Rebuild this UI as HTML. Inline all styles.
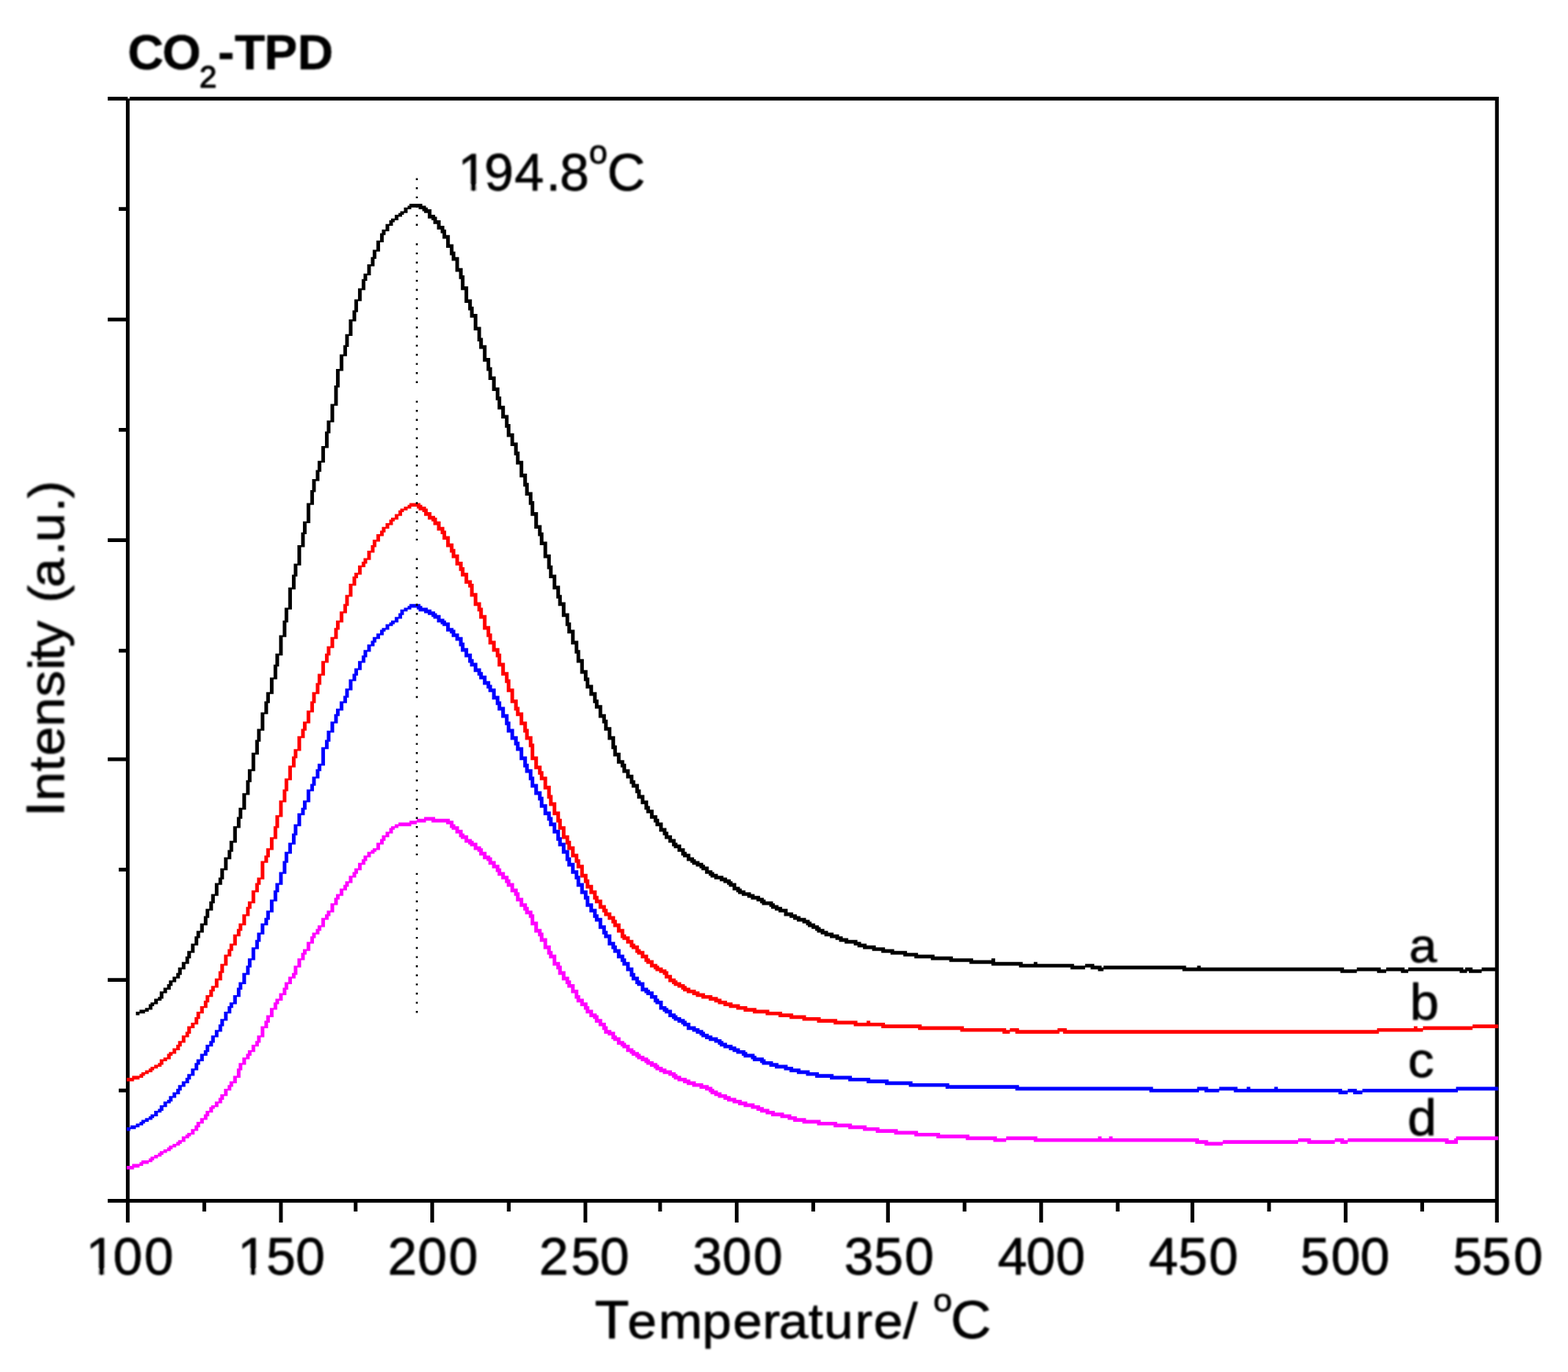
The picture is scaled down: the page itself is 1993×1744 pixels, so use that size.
<!DOCTYPE html>
<html lang="en">
<head>
<meta charset="utf-8">
<title>CO2-TPD</title>
<style>
html,body{margin:0;padding:0;background:#fff;}
body{width:1993px;height:1744px;overflow:hidden;}
svg{display:block;}
text{font-kerning:none;white-space:pre;}
</style>
</head>
<body>
<svg width="1993" height="1744" viewBox="0 0 1993 1744" font-family="'Liberation Sans', Arial, Helvetica, sans-serif">
<defs><filter id="soft" x="-2%" y="-2%" width="104%" height="104%"><feGaussianBlur stdDeviation="0.7"/></filter><filter id="softt" x="-5%" y="-20%" width="110%" height="140%"><feGaussianBlur stdDeviation="0.8"/></filter></defs>
<rect width="1993" height="1744" fill="#fff"/>
<g filter="url(#soft)"><path fill="#000" d="M159.99 125.36H162.36V1553.9H159.99ZM162.36 125.36H164.74V1553.9H162.36ZM159.99 122.98H162.36V125.36H159.99ZM1900.28 122.98H1905.03V1553.9H1900.28ZM136.9 122.98H159.99V127.74H136.9ZM164.74 122.98H1905.03V127.74H164.74ZM136.9 1523.98H1905.03V1528.73H136.9ZM150.9 263.32H159.99V268.07H150.9ZM136.9 403.65H159.99V408.41H136.9ZM150.9 543.99H159.99V548.75H150.9ZM136.9 684.33H159.99V689.09H136.9ZM150.9 824.67H159.99V829.42H150.9ZM136.9 962.63H159.99V967.38H136.9ZM150.9 1102.96H159.99V1107.72H150.9ZM136.9 1243.3H159.99V1248.06H136.9ZM150.9 1383.64H159.99V1388.4H150.9ZM257.33 1528.73H262.08V1540.1H257.33ZM354.67 1528.73H359.42V1553.9H354.67ZM449.64 1528.73H454.39V1540.1H449.64ZM546.98 1528.73H551.73V1553.9H546.98ZM644.33 1528.73H649.08V1540.1H644.33ZM741.67 1528.73H746.42V1553.9H741.67ZM836.64 1528.73H841.39V1540.1H836.64ZM933.98 1528.73H938.73V1553.9H933.98ZM1031.32 1528.73H1036.07V1540.1H1031.32ZM1126.29 1528.73H1131.04V1553.9H1126.29ZM1223.63 1528.73H1228.38V1540.1H1223.63ZM1320.97 1528.73H1325.72V1553.9H1320.97ZM1418.32 1528.73H1423.06V1540.1H1418.32ZM1513.28 1528.73H1518.03V1553.9H1513.28ZM1610.63 1528.73H1615.37V1540.1H1610.63ZM1707.97 1528.73H1712.72V1553.9H1707.97ZM1805.31 1528.73H1810.06V1540.1H1805.31Z"/>
<path fill="#000" d="M172.7 1285.88H177.36V1290.55H172.7ZM177.36 1283.55H184.36V1288.22H177.36ZM184.36 1281.21H189.03V1285.88H184.36ZM189.03 1276.55H191.37V1283.55H189.03ZM191.37 1274.21H193.7V1283.55H191.37ZM193.7 1274.21H196.03V1278.88H193.7ZM196.03 1269.55H200.7V1276.55H196.03ZM200.7 1267.21H203.03V1271.88H200.7ZM203.03 1260.21H205.37V1271.88H203.03ZM205.37 1260.21H207.7V1269.55H205.37ZM207.7 1255.54H212.37V1262.54H207.7ZM212.37 1250.88H214.7V1257.88H212.37ZM214.7 1246.21H217.04V1257.88H214.7ZM217.04 1246.21H219.37V1253.21H217.04ZM219.37 1241.54H224.04V1248.54H219.37ZM224.04 1236.87H226.37V1243.87H224.04ZM226.37 1229.87H228.7V1243.87H226.37ZM228.7 1229.87H231.04V1239.21H228.7ZM231.04 1222.87H235.71V1232.21H231.04ZM235.71 1215.87H238.04V1225.2H235.71ZM238.04 1208.87H240.37V1225.2H238.04ZM240.37 1208.87H242.71V1218.2H240.37ZM242.71 1199.53H247.37V1211.2H242.71ZM247.37 1190.2H249.71V1201.87H247.37ZM249.71 1183.2H252.04V1201.87H249.71ZM252.04 1183.2H254.38V1192.53H252.04ZM254.38 1173.86H259.04V1185.53H254.38ZM259.04 1164.53H261.38V1176.2H259.04ZM261.38 1155.19H263.71V1176.2H261.38ZM263.71 1155.19H266.04V1166.86H263.71ZM266.04 1145.86H268.38V1157.53H266.04ZM268.38 1136.52H270.71V1157.53H268.38ZM270.71 1136.52H273.05V1148.19H270.71ZM273.05 1122.52H277.71V1138.86H273.05ZM277.71 1115.52H280.05V1124.85H277.71ZM280.05 1103.85H282.38V1124.85H280.05ZM282.38 1103.85H284.71V1117.85H282.38ZM284.71 1089.85H289.38V1106.19H284.71ZM289.38 1080.51H291.72V1092.18H289.38ZM291.72 1068.85H294.05V1092.18H291.72ZM294.05 1068.85H296.38V1082.85H294.05ZM296.38 1050.18H301.05V1071.18H296.38ZM301.05 1038.51H303.38V1052.51H301.05ZM303.38 1026.84H305.72V1052.51H303.38ZM305.72 1026.84H308.05V1040.84H305.72ZM308.05 1008.17H312.72V1029.17H308.05ZM312.72 991.83H315.05V1010.5H312.72ZM315.05 977.83H317.39V1010.5H315.05ZM317.39 977.83H319.72V994.17H317.39ZM319.72 956.83H324.39V980.16H319.72ZM324.39 940.49H326.72V959.16H324.39ZM326.72 926.49H329.06V959.16H326.72ZM329.06 926.49H331.39V942.82H329.06ZM331.39 905.48H336.06V928.82H331.39ZM336.06 891.48H338.39V907.82H336.06ZM338.39 879.81H340.72V907.82H338.39ZM340.72 879.81H343.06V893.82H340.72ZM343.06 861.14H347.72V882.15H343.06ZM347.72 844.81H350.06V863.48H347.72ZM350.06 830.81H352.39V863.48H350.06ZM352.39 830.81H354.73V847.14H352.39ZM354.73 807.47H359.39V833.14H354.73ZM359.39 788.8H361.73V809.8H359.39ZM361.73 772.46H364.06V809.8H361.73ZM364.06 772.46H366.39V791.13H364.06ZM366.39 746.79H371.06V774.8H366.39ZM371.06 730.46H373.4V749.13H371.06ZM373.4 716.45H375.73V749.13H373.4ZM375.73 716.45H378.06V732.79H375.73ZM378.06 693.12H382.73V718.79H378.06ZM382.73 676.78H385.06V695.45H382.73ZM385.06 662.78H387.4V695.45H385.06ZM387.4 662.78H389.73V679.11H387.4ZM389.73 639.44H394.4V665.11H389.73ZM394.4 623.1H396.73V641.77H394.4ZM396.73 609.1H399.07V641.77H396.73ZM399.07 609.1H401.4V625.44H399.07ZM401.4 597.43H403.73V611.44H401.4ZM403.73 585.76H406.07V611.44H403.73ZM406.07 585.76H408.4V599.77H406.07ZM408.4 567.09H413.07V588.1H408.4ZM413.07 548.43H415.4V569.43H413.07ZM415.4 534.42H417.74V569.43H415.4ZM417.74 534.42H420.07V550.76H417.74ZM420.07 513.42H424.74V536.76H420.07ZM424.74 490.08H427.07V515.75H424.74ZM427.07 469.08H429.41V515.75H427.07ZM429.41 469.08H431.74V492.42H429.41ZM431.74 450.41H436.41V471.41H431.74ZM436.41 438.74H438.74V452.74H436.41ZM438.74 424.74H441.07V452.74H438.74ZM441.07 424.74H443.41V441.07H441.07ZM443.41 406.07H448.07V427.07H443.41ZM448.07 394.4H450.41V408.4H448.07ZM450.41 380.4H452.74V408.4H450.41ZM452.74 380.4H455.08V396.73H452.74ZM455.08 366.39H459.74V382.73H455.08ZM459.74 354.73H462.08V368.73H459.74ZM462.08 347.72H464.41V368.73H462.08ZM464.41 347.72H466.74V357.06H464.41ZM466.74 336.06H471.41V350.06H466.74ZM471.41 326.72H473.75V338.39H471.41ZM473.75 317.39H476.08V338.39H473.75ZM476.08 317.39H478.41V329.06H476.08ZM478.41 305.72H483.08V319.72H478.41ZM483.08 296.38H485.41V308.05H483.08ZM485.41 291.72H487.75V308.05H485.41ZM487.75 291.72H490.08V298.72H487.75ZM490.08 284.71H494.75V294.05H490.08ZM494.75 280.05H497.08V287.05H494.75ZM497.08 277.71H499.42V287.05H497.08ZM499.42 277.71H501.75V282.38H499.42ZM501.75 273.05H506.42V280.05H501.75ZM506.42 270.71H508.75V275.38H506.42ZM508.75 268.38H511.09V275.38H508.75ZM511.09 268.38H513.42V273.05H511.09ZM513.42 263.71H518.09V270.71H513.42ZM518.09 261.38H520.42V266.04H518.09ZM520.42 259.04H522.75V266.04H520.42ZM522.75 259.04H532.09V263.71H522.75ZM532.09 259.04H536.76V266.04H532.09ZM536.76 261.38H539.09V268.38H536.76ZM539.09 261.38H541.42V270.71H539.09ZM541.42 263.71H543.76V270.71H541.42ZM543.76 266.04H548.43V277.71H543.76ZM548.43 273.05H550.76V280.05H548.43ZM550.76 273.05H553.09V284.71H550.76ZM553.09 275.38H555.43V284.71H553.09ZM555.43 280.05H560.09V291.72H555.43ZM560.09 287.05H562.43V296.38H560.09ZM562.43 287.05H564.76V303.38H562.43ZM564.76 291.72H567.09V303.38H564.76ZM567.09 298.72H571.76V315.05H567.09ZM571.76 310.39H574.1V324.39H571.76ZM574.1 310.39H576.43V331.39H574.1ZM576.43 319.72H578.76V331.39H576.43ZM578.76 326.72H583.43V345.39H578.76ZM583.43 340.72H585.76V354.73H583.43ZM585.76 340.72H588.1V368.73H585.76ZM588.1 350.06H590.43V368.73H588.1ZM590.43 364.06H595.1V385.06H590.43ZM595.1 380.4H597.43V394.4H595.1ZM597.43 380.4H599.77V403.73H597.43ZM599.77 389.73H602.1V403.73H599.77ZM602.1 399.07H606.77V420.07H602.1ZM606.77 415.4H609.1V434.07H606.77ZM609.1 415.4H611.44V443.41H609.1ZM611.44 429.41H613.77V443.41H611.44ZM613.77 438.74H618.44V459.74H613.77ZM618.44 455.08H620.77V471.41H618.44ZM620.77 455.08H623.1V483.08H620.77ZM623.1 466.74H625.44V483.08H623.1ZM625.44 478.41H630.11V497.08H625.44ZM630.11 492.42H632.44V508.75H630.11ZM632.44 492.42H634.77V520.42H632.44ZM634.77 504.08H637.11V520.42H634.77ZM637.11 515.75H641.77V532.09H637.11ZM641.77 527.42H644.11V543.76H641.77ZM644.11 527.42H646.44V555.43H644.11ZM646.44 539.09H648.78V555.43H646.44ZM648.78 550.76H653.44V567.09H648.78ZM653.44 562.43H655.78V578.76H653.44ZM655.78 562.43H658.11V590.43H655.78ZM658.11 574.1H660.44V590.43H658.11ZM660.44 585.76H665.11V606.77H660.44ZM665.11 602.1H667.44V618.44H665.11ZM667.44 602.1H669.78V630.11H667.44ZM669.78 613.77H672.11V630.11H669.78ZM672.11 625.44H674.45V641.77H672.11ZM674.45 625.44H676.78V655.78H674.45ZM676.78 637.11H679.11V655.78H676.78ZM679.11 651.11H683.78V672.11H679.11ZM683.78 667.44H686.11V681.45H683.78ZM686.11 667.44H688.45V693.12H686.11ZM688.45 676.78H690.78V693.12H688.45ZM690.78 688.45H695.45V709.45H690.78ZM695.45 704.78H697.78V723.45H695.45ZM697.78 704.78H700.12V735.12H697.78ZM700.12 718.79H702.45V735.12H700.12ZM702.45 730.46H707.12V749.13H702.45ZM707.12 744.46H709.45V760.79H707.12ZM709.45 744.46H711.79V770.13H709.45ZM711.79 756.13H714.12V770.13H711.79ZM714.12 765.46H718.79V784.13H714.12ZM718.79 779.46H721.12V795.8H718.79ZM721.12 779.46H723.45V805.13H721.12ZM723.45 791.13H725.79V805.13H723.45ZM725.79 800.47H730.46V819.14H725.79ZM730.46 814.47H732.79V830.81H730.46ZM732.79 814.47H735.12V842.47H732.79ZM735.12 826.14H737.46V842.47H735.12ZM737.46 837.81H742.12V856.48H737.46ZM742.12 851.81H744.46V865.81H742.12ZM744.46 851.81H746.79V875.15H744.46ZM746.79 861.14H749.13V875.15H746.79ZM749.13 870.48H753.79V884.48H749.13ZM753.79 879.81H756.13V893.82H753.79ZM756.13 879.81H758.46V900.82H756.13ZM758.46 889.15H760.79V900.82H758.46ZM760.79 896.15H765.46V912.49H760.79ZM765.46 907.82H767.8V919.49H765.46ZM767.8 907.82H770.13V928.82H767.8ZM770.13 914.82H772.46V928.82H770.13ZM772.46 924.15H777.13V940.49H772.46ZM777.13 935.82H779.46V952.16H777.13ZM779.46 935.82H781.8V961.49H779.46ZM781.8 947.49H784.13V961.49H781.8ZM784.13 956.83H788.8V970.83H784.13ZM788.8 966.16H791.13V975.5H788.8ZM791.13 966.16H793.47V982.5H791.13ZM793.47 970.83H795.8V982.5H793.47ZM795.8 977.83H800.47V989.5H795.8ZM800.47 984.83H802.8V996.5H800.47ZM802.8 984.83H805.13V1001.17H802.8ZM805.13 991.83H807.47V1001.17H805.13ZM807.47 996.5H809.8V1008.17H807.47ZM809.8 996.5H812.14V1015.17H809.8ZM812.14 1003.5H814.47V1015.17H812.14ZM814.47 1010.5H819.14V1022.17H814.47ZM819.14 1017.5H821.47V1029.17H819.14ZM821.47 1017.5H823.8V1033.84H821.47ZM823.8 1024.5H826.14V1033.84H823.8ZM826.14 1029.17H830.81V1040.84H826.14ZM830.81 1036.17H833.14V1045.51H830.81ZM833.14 1036.17H835.47V1050.18H833.14ZM835.47 1040.84H837.81V1050.18H835.47ZM837.81 1045.51H842.47V1057.18H837.81ZM842.47 1052.51H844.81V1061.84H842.47ZM844.81 1052.51H847.14V1066.51H844.81ZM847.14 1057.18H849.48V1066.51H847.14ZM849.48 1061.84H854.14V1071.18H849.48ZM854.14 1066.51H856.48V1075.85H854.14ZM856.48 1066.51H858.81V1078.18H856.48ZM858.81 1071.18H861.14V1078.18H858.81ZM861.14 1073.51H865.81V1082.85H861.14ZM865.81 1078.18H868.15V1087.52H865.81ZM868.15 1078.18H870.48V1089.85H868.15ZM870.48 1082.85H872.81V1089.85H870.48ZM872.81 1085.18H877.48V1094.52H872.81ZM877.48 1089.85H879.81V1096.85H877.48ZM879.81 1089.85H882.15V1099.18H879.81ZM882.15 1092.18H884.48V1099.18H882.15ZM884.48 1094.52H889.15V1101.52H884.48ZM889.15 1096.85H891.48V1103.85H889.15ZM891.48 1096.85H893.82V1106.19H891.48ZM893.82 1099.18H896.15V1106.19H893.82ZM896.15 1101.52H900.82V1110.85H896.15ZM900.82 1106.19H903.15V1113.19H900.82ZM903.15 1106.19H905.48V1115.52H903.15ZM905.48 1108.52H907.82V1115.52H905.48ZM907.82 1110.85H912.49V1117.85H907.82ZM912.49 1113.19H914.82V1117.85H912.49ZM914.82 1113.19H919.49V1120.19H914.82ZM919.49 1115.52H924.15V1122.52H919.49ZM924.15 1117.85H926.49V1124.85H924.15ZM926.49 1117.85H928.82V1127.19H926.49ZM928.82 1120.19H931.16V1127.19H928.82ZM931.16 1122.52H935.82V1131.86H931.16ZM935.82 1127.19H938.16V1134.19H935.82ZM938.16 1127.19H940.49V1136.52H938.16ZM940.49 1129.52H942.82V1136.52H940.49ZM942.82 1131.86H947.49V1138.86H942.82ZM947.49 1134.19H949.83V1138.86H947.49ZM949.83 1134.19H954.49V1141.19H949.83ZM954.49 1136.52H959.16V1143.52H954.49ZM959.16 1138.86H961.49V1143.52H959.16ZM961.49 1138.86H966.16V1145.86H961.49ZM966.16 1141.19H968.5V1148.19H966.16ZM968.5 1141.19H970.83V1150.53H968.5ZM970.83 1143.52H973.16V1150.53H970.83ZM973.16 1145.86H977.83V1150.53H973.16ZM977.83 1145.86H980.16V1152.86H977.83ZM980.16 1145.86H982.5V1155.19H980.16ZM982.5 1148.19H984.83V1155.19H982.5ZM984.83 1150.53H989.5V1157.53H984.83ZM989.5 1152.86H994.17V1159.86H989.5ZM994.17 1155.19H996.5V1159.86H994.17ZM996.5 1155.19H1001.17V1164.53H996.5ZM1001.17 1159.86H1003.5V1164.53H1001.17ZM1003.5 1159.86H1008.17V1166.86H1003.5ZM1008.17 1162.19H1012.84V1169.2H1008.17ZM1012.84 1164.53H1017.5V1171.53H1012.84ZM1017.5 1166.86H1019.84V1171.53H1017.5ZM1019.84 1166.86H1024.5V1173.86H1019.84ZM1024.5 1169.2H1026.84V1176.2H1024.5ZM1026.84 1169.2H1029.17V1178.53H1026.84ZM1029.17 1171.53H1031.51V1178.53H1029.17ZM1031.51 1173.86H1036.17V1180.86H1031.51ZM1036.17 1176.2H1038.51V1183.2H1036.17ZM1038.51 1176.2H1040.84V1185.53H1038.51ZM1040.84 1178.53H1043.17V1185.53H1040.84ZM1043.17 1180.86H1047.84V1187.87H1043.17ZM1047.84 1183.2H1052.51V1190.2H1047.84ZM1052.51 1185.53H1054.84V1190.2H1052.51ZM1054.84 1185.53H1059.51V1192.53H1054.84ZM1059.51 1187.87H1061.84V1192.53H1059.51ZM1061.84 1187.87H1066.51V1194.87H1061.84ZM1066.51 1190.2H1071.18V1197.2H1066.51ZM1071.18 1192.53H1073.51V1197.2H1071.18ZM1073.51 1192.53H1078.18V1199.53H1073.51ZM1078.18 1194.87H1085.18V1199.53H1078.18ZM1085.18 1194.87H1089.85V1201.87H1085.18ZM1089.85 1197.2H1094.52V1204.2H1089.85ZM1094.52 1199.53H1096.85V1204.2H1094.52ZM1096.85 1199.53H1101.52V1206.54H1096.85ZM1101.52 1201.87H1108.52V1206.54H1101.52ZM1108.52 1201.87H1113.19V1208.87H1108.52ZM1113.19 1204.2H1120.19V1208.87H1113.19ZM1120.19 1204.2H1124.85V1211.2H1120.19ZM1124.85 1206.54H1131.86V1211.2H1124.85ZM1131.86 1206.54H1136.52V1213.54H1131.86ZM1136.52 1208.87H1148.19V1213.54H1136.52ZM1148.19 1208.87H1152.86V1215.87H1148.19ZM1152.86 1211.2H1162.19V1215.87H1152.86ZM1162.19 1211.2H1166.86V1218.2H1162.19ZM1166.86 1213.54H1183.2V1218.2H1166.86ZM1183.2 1213.54H1187.87V1220.54H1183.2ZM1187.87 1215.87H1206.54V1220.54H1187.87ZM1206.54 1215.87H1211.2V1222.87H1206.54ZM1211.2 1218.2H1232.21V1222.87H1211.2ZM1232.21 1218.2H1236.87V1225.2H1232.21ZM1236.87 1220.54H1260.21V1225.2H1236.87ZM1260.21 1218.2H1264.88V1227.54H1260.21ZM1264.88 1222.87H1295.22V1227.54H1264.88ZM1295.22 1222.87H1299.88V1229.87H1295.22ZM1299.88 1225.2H1313.89V1229.87H1299.88ZM1313.89 1222.87H1318.55V1229.87H1313.89ZM1318.55 1225.2H1360.56V1229.87H1318.55ZM1360.56 1225.2H1365.23V1232.21H1360.56ZM1365.23 1227.54H1379.23V1232.21H1365.23ZM1379.23 1225.2H1386.23V1229.87H1379.23ZM1386.23 1225.2H1390.9V1232.21H1386.23ZM1390.9 1227.54H1395.57V1232.21H1390.9ZM1395.57 1227.54H1400.23V1234.54H1395.57ZM1400.23 1229.87H1402.57V1234.54H1400.23ZM1402.57 1227.54H1502.92V1232.21H1402.57ZM1502.92 1227.54H1507.59V1234.54H1502.92ZM1507.59 1229.87H1521.59V1234.54H1507.59ZM1521.59 1227.54H1526.26V1234.54H1521.59ZM1526.26 1229.87H1703.62V1234.54H1526.26ZM1703.62 1229.87H1708.29V1236.87H1703.62ZM1708.29 1232.21H1724.62V1236.87H1708.29ZM1724.62 1229.87H1750.29V1234.54H1724.62ZM1750.29 1229.87H1754.96V1236.87H1750.29ZM1754.96 1232.21H1761.96V1236.87H1754.96ZM1761.96 1229.87H1780.63V1234.54H1761.96ZM1780.63 1229.87H1785.3V1236.87H1780.63ZM1785.3 1232.21H1789.97V1236.87H1785.3ZM1789.97 1229.87H1855.31V1234.54H1789.97ZM1855.31 1229.87H1859.98V1236.87H1855.31ZM1859.98 1232.21H1862.31V1236.87H1859.98ZM1862.31 1229.87H1864.65V1236.87H1862.31ZM1864.65 1229.87H1866.98V1234.54H1864.65ZM1866.98 1229.87H1871.65V1236.87H1866.98ZM1871.65 1232.21H1883.31V1236.87H1871.65ZM1883.31 1229.87H1904.32V1234.54H1883.31Z"/>
<path fill="#f00" d="M161.03 1369.9H168.03V1374.56H161.03ZM168.03 1367.56H170.36V1374.56H168.03ZM170.36 1367.56H177.36V1372.23H170.36ZM177.36 1365.23H179.7V1369.9H177.36ZM179.7 1362.89H182.03V1369.9H179.7ZM182.03 1362.89H184.36V1367.56H182.03ZM184.36 1360.56H189.03V1365.23H184.36ZM189.03 1358.23H191.37V1362.89H189.03ZM191.37 1355.89H193.7V1362.89H191.37ZM193.7 1355.89H196.03V1360.56H193.7ZM196.03 1353.56H200.7V1358.23H196.03ZM200.7 1351.23H203.03V1355.89H200.7ZM203.03 1346.56H205.37V1355.89H203.03ZM205.37 1346.56H207.7V1353.56H205.37ZM207.7 1344.22H212.37V1348.89H207.7ZM212.37 1339.56H214.7V1346.56H212.37ZM214.7 1337.22H217.04V1346.56H214.7ZM217.04 1337.22H219.37V1341.89H217.04ZM219.37 1332.56H224.04V1339.56H219.37ZM224.04 1327.89H226.37V1334.89H224.04ZM226.37 1323.22H228.7V1334.89H226.37ZM228.7 1323.22H231.04V1330.22H228.7ZM231.04 1316.22H235.71V1325.56H231.04ZM235.71 1311.55H238.04V1318.55H235.71ZM238.04 1304.55H240.37V1318.55H238.04ZM240.37 1304.55H242.71V1313.89H240.37ZM242.71 1299.88H247.37V1306.89H242.71ZM247.37 1292.88H249.71V1302.22H247.37ZM249.71 1285.88H252.04V1302.22H249.71ZM252.04 1285.88H254.38V1295.22H252.04ZM254.38 1278.88H259.04V1288.22H254.38ZM259.04 1271.88H261.38V1281.21H259.04ZM261.38 1264.88H263.71V1281.21H261.38ZM263.71 1264.88H266.04V1274.21H263.71ZM266.04 1257.88H268.38V1267.21H266.04ZM268.38 1253.21H270.71V1267.21H268.38ZM270.71 1253.21H273.05V1260.21H270.71ZM273.05 1243.87H277.71V1255.54H273.05ZM277.71 1234.54H280.05V1246.21H277.71ZM280.05 1225.2H282.38V1246.21H280.05ZM282.38 1225.2H284.71V1236.87H282.38ZM284.71 1213.54H289.38V1227.54H284.71ZM289.38 1206.54H291.72V1215.87H289.38ZM291.72 1199.53H294.05V1215.87H291.72ZM294.05 1199.53H296.38V1208.87H294.05ZM296.38 1187.87H301.05V1201.87H296.38ZM301.05 1180.86H303.38V1190.2H301.05ZM303.38 1173.86H305.72V1190.2H303.38ZM305.72 1173.86H308.05V1183.2H305.72ZM308.05 1162.19H312.72V1176.2H308.05ZM312.72 1152.86H315.05V1164.53H312.72ZM315.05 1145.86H317.39V1164.53H315.05ZM317.39 1145.86H319.72V1155.19H317.39ZM319.72 1131.86H324.39V1148.19H319.72ZM324.39 1122.52H326.72V1134.19H324.39ZM326.72 1115.52H329.06V1134.19H326.72ZM329.06 1115.52H331.39V1124.85H329.06ZM331.39 1094.52H336.06V1117.85H331.39ZM336.06 1087.52H338.39V1096.85H336.06ZM338.39 1078.18H340.72V1096.85H338.39ZM340.72 1078.18H343.06V1089.85H340.72ZM343.06 1064.18H347.72V1080.51H343.06ZM347.72 1050.18H350.06V1066.51H347.72ZM350.06 1036.17H352.39V1066.51H350.06ZM352.39 1036.17H354.73V1052.51H352.39ZM354.73 1017.5H359.39V1038.51H354.73ZM359.39 1003.5H361.73V1019.84H359.39ZM361.73 989.5H364.06V1019.84H361.73ZM364.06 989.5H366.39V1005.83H364.06ZM366.39 973.16H371.06V991.83H366.39ZM371.06 961.49H373.4V975.5H371.06ZM373.4 952.16H375.73V975.5H373.4ZM375.73 952.16H378.06V963.83H375.73ZM378.06 935.82H382.73V954.49H378.06ZM382.73 926.49H385.06V938.16H382.73ZM385.06 917.15H387.4V938.16H385.06ZM387.4 917.15H389.73V928.82H387.4ZM389.73 903.15H394.4V919.49H389.73ZM394.4 891.48H396.73V905.48H394.4ZM396.73 879.81H399.07V905.48H396.73ZM399.07 879.81H401.4V893.82H399.07ZM401.4 868.15H403.73V882.15H401.4ZM403.73 856.48H406.07V882.15H403.73ZM406.07 856.48H408.4V870.48H406.07ZM408.4 840.14H413.07V858.81H408.4ZM413.07 830.81H415.4V842.47H413.07ZM415.4 821.47H417.74V842.47H415.4ZM417.74 821.47H420.07V833.14H417.74ZM420.07 809.8H424.74V823.8H420.07ZM424.74 798.13H427.07V812.14H424.74ZM427.07 788.8H429.41V812.14H427.07ZM429.41 788.8H431.74V800.47H429.41ZM431.74 777.13H436.41V791.13H431.74ZM436.41 767.8H438.74V779.46H436.41ZM438.74 756.13H441.07V779.46H438.74ZM441.07 756.13H443.41V770.13H441.07ZM443.41 742.12H448.07V758.46H443.41ZM448.07 732.79H450.41V744.46H448.07ZM450.41 728.12H452.74V744.46H450.41ZM452.74 728.12H455.08V735.12H452.74ZM455.08 718.79H459.74V730.46H455.08ZM459.74 714.12H462.08V721.12H459.74ZM462.08 709.45H464.41V721.12H462.08ZM464.41 709.45H466.74V716.45H464.41ZM466.74 700.12H471.41V711.79H466.74ZM471.41 693.12H473.75V702.45H471.41ZM473.75 686.11H476.08V702.45H473.75ZM476.08 686.11H478.41V695.45H476.08ZM478.41 679.11H483.08V688.45H478.41ZM483.08 674.45H485.41V681.45H483.08ZM485.41 669.78H487.75V681.45H485.41ZM487.75 669.78H490.08V676.78H487.75ZM490.08 665.11H494.75V672.11H490.08ZM494.75 660.44H497.08V667.44H494.75ZM497.08 658.11H499.42V667.44H497.08ZM499.42 658.11H501.75V662.78H499.42ZM501.75 653.44H506.42V660.44H501.75ZM506.42 648.78H508.75V655.78H506.42ZM508.75 646.44H511.09V655.78H508.75ZM511.09 646.44H513.42V651.11H511.09ZM513.42 644.11H518.09V648.78H513.42ZM518.09 641.77H520.42V646.44H518.09ZM520.42 639.44H522.75V646.44H520.42ZM522.75 639.44H529.76V644.11H522.75ZM529.76 639.44H532.09V646.44H529.76ZM532.09 639.44H534.42V648.78H532.09ZM534.42 641.77H536.76V648.78H534.42ZM536.76 644.11H539.09V651.11H536.76ZM539.09 644.11H541.42V655.78H539.09ZM541.42 646.44H543.76V655.78H541.42ZM543.76 651.11H548.43V660.44H543.76ZM548.43 655.78H550.76V662.78H548.43ZM550.76 655.78H553.09V667.44H550.76ZM553.09 658.11H555.43V667.44H553.09ZM555.43 662.78H560.09V674.45H555.43ZM560.09 669.78H562.43V679.11H560.09ZM562.43 669.78H564.76V686.11H562.43ZM564.76 674.45H567.09V686.11H564.76ZM567.09 681.45H571.76V695.45H567.09ZM571.76 690.78H574.1V702.45H571.76ZM574.1 690.78H576.43V709.45H574.1ZM576.43 697.78H578.76V709.45H576.43ZM578.76 704.78H583.43V718.79H578.76ZM583.43 714.12H585.76V725.79H583.43ZM585.76 714.12H588.1V732.79H585.76ZM588.1 721.12H590.43V732.79H588.1ZM590.43 728.12H595.1V742.12H590.43ZM595.1 737.46H597.43V746.79H595.1ZM597.43 737.46H599.77V758.46H597.43ZM599.77 742.12H602.1V758.46H599.77ZM602.1 753.79H606.77V770.13H602.1ZM606.77 765.46H609.1V777.13H606.77ZM609.1 765.46H611.44V786.46H609.1ZM611.44 772.46H613.77V786.46H611.44ZM613.77 781.8H618.44V800.47H613.77ZM618.44 795.8H620.77V809.8H618.44ZM620.77 795.8H623.1V819.14H620.77ZM623.1 805.13H625.44V819.14H623.1ZM625.44 814.47H630.11V828.47H625.44ZM630.11 823.8H632.44V835.47H630.11ZM632.44 823.8H634.77V847.14H632.44ZM634.77 830.81H637.11V847.14H634.77ZM637.11 842.47H641.77V858.81H637.11ZM641.77 854.14H644.11V868.15H641.77ZM644.11 854.14H646.44V879.81H644.11ZM646.44 863.48H648.78V879.81H646.44ZM648.78 875.15H653.44V893.82H648.78ZM653.44 889.15H655.78V903.15H653.44ZM655.78 889.15H658.11V910.15H655.78ZM658.11 898.48H660.44V910.15H658.11ZM660.44 905.48H665.11V921.82H660.44ZM665.11 917.15H667.44V931.16H665.11ZM667.44 917.15H669.78V940.49H667.44ZM669.78 926.49H672.11V940.49H669.78ZM672.11 935.82H674.45V949.83H672.11ZM674.45 935.82H676.78V966.16H674.45ZM676.78 945.16H679.11V966.16H676.78ZM679.11 961.49H683.78V977.83H679.11ZM683.78 973.16H686.11V984.83H683.78ZM686.11 973.16H688.45V991.83H686.11ZM688.45 980.16H690.78V991.83H688.45ZM690.78 987.17H695.45V1003.5H690.78ZM695.45 998.83H697.78V1015.17H695.45ZM697.78 998.83H700.12V1024.5H697.78ZM700.12 1010.5H702.45V1024.5H700.12ZM702.45 1019.84H707.12V1036.17H702.45ZM707.12 1031.51H709.45V1045.51H707.12ZM709.45 1031.51H711.79V1054.84H709.45ZM711.79 1040.84H714.12V1054.84H711.79ZM714.12 1050.18H718.79V1066.51H714.12ZM718.79 1061.84H721.12V1073.51H718.79ZM721.12 1061.84H723.45V1080.51H721.12ZM723.45 1068.85H725.79V1080.51H723.45ZM725.79 1075.85H730.46V1089.85H725.79ZM730.46 1085.18H732.79V1096.85H730.46ZM732.79 1085.18H735.12V1103.85H732.79ZM735.12 1092.18H737.46V1103.85H735.12ZM737.46 1099.18H742.12V1115.52H737.46ZM742.12 1110.85H744.46V1122.52H742.12ZM744.46 1110.85H746.79V1129.52H744.46ZM746.79 1117.85H749.13V1129.52H746.79ZM749.13 1124.85H753.79V1136.52H749.13ZM753.79 1131.86H756.13V1143.52H753.79ZM756.13 1131.86H758.46V1148.19H756.13ZM758.46 1138.86H760.79V1148.19H758.46ZM760.79 1143.52H765.46V1155.19H760.79ZM765.46 1150.53H767.8V1159.86H765.46ZM767.8 1150.53H770.13V1164.53H767.8ZM770.13 1155.19H772.46V1164.53H770.13ZM772.46 1159.86H777.13V1169.2H772.46ZM777.13 1164.53H779.46V1173.86H777.13ZM779.46 1164.53H781.8V1178.53H779.46ZM781.8 1169.2H784.13V1178.53H781.8ZM784.13 1173.86H788.8V1185.53H784.13ZM788.8 1180.86H791.13V1192.53H788.8ZM791.13 1180.86H793.47V1194.87H791.13ZM793.47 1187.87H795.8V1194.87H793.47ZM795.8 1190.2H800.47V1199.53H795.8ZM800.47 1194.87H802.8V1204.2H800.47ZM802.8 1194.87H805.13V1206.54H802.8ZM805.13 1199.53H807.47V1206.54H805.13ZM807.47 1201.87H809.8V1211.2H807.47ZM809.8 1201.87H812.14V1213.54H809.8ZM812.14 1206.54H814.47V1213.54H812.14ZM814.47 1208.87H819.14V1218.2H814.47ZM819.14 1213.54H821.47V1222.87H819.14ZM821.47 1213.54H823.8V1225.2H821.47ZM823.8 1218.2H826.14V1225.2H823.8ZM826.14 1220.54H830.81V1229.87H826.14ZM830.81 1225.2H833.14V1232.21H830.81ZM833.14 1225.2H835.47V1234.54H833.14ZM835.47 1227.54H837.81V1234.54H835.47ZM837.81 1229.87H842.47V1236.87H837.81ZM842.47 1232.21H844.81V1239.21H842.47ZM844.81 1232.21H847.14V1243.87H844.81ZM847.14 1234.54H849.48V1243.87H847.14ZM849.48 1239.21H854.14V1248.54H849.48ZM854.14 1243.87H856.48V1250.88H854.14ZM856.48 1243.87H858.81V1253.21H856.48ZM858.81 1246.21H861.14V1253.21H858.81ZM861.14 1248.54H865.81V1255.54H861.14ZM865.81 1250.88H868.15V1257.88H865.81ZM868.15 1250.88H870.48V1260.21H868.15ZM870.48 1253.21H872.81V1260.21H870.48ZM872.81 1255.54H877.48V1262.54H872.81ZM877.48 1257.88H879.81V1262.54H877.48ZM879.81 1257.88H884.48V1264.88H879.81ZM884.48 1260.21H889.15V1267.21H884.48ZM889.15 1262.54H891.48V1267.21H889.15ZM891.48 1262.54H896.15V1269.55H891.48ZM896.15 1264.88H900.82V1269.55H896.15ZM900.82 1264.88H905.48V1271.88H900.82ZM905.48 1267.21H907.82V1271.88H905.48ZM907.82 1267.21H912.49V1274.21H907.82ZM912.49 1269.55H917.15V1276.55H912.49ZM917.15 1271.88H919.49V1276.55H917.15ZM919.49 1271.88H924.15V1278.88H919.49ZM924.15 1274.21H926.49V1278.88H924.15ZM926.49 1274.21H931.16V1281.21H926.49ZM931.16 1276.55H935.82V1281.21H931.16ZM935.82 1276.55H940.49V1283.55H935.82ZM940.49 1278.88H945.16V1283.55H940.49ZM945.16 1278.88H949.83V1285.88H945.16ZM949.83 1281.21H956.83V1285.88H949.83ZM956.83 1281.21H961.49V1288.22H956.83ZM961.49 1283.55H973.16V1288.22H961.49ZM973.16 1283.55H977.83V1290.55H973.16ZM977.83 1285.88H989.5V1290.55H977.83ZM989.5 1285.88H994.17V1292.88H989.5ZM994.17 1288.22H1003.5V1292.88H994.17ZM1003.5 1288.22H1008.17V1295.22H1003.5ZM1008.17 1290.55H1019.84V1295.22H1008.17ZM1019.84 1290.55H1024.5V1297.55H1019.84ZM1024.5 1292.88H1038.51V1297.55H1024.5ZM1038.51 1292.88H1043.17V1299.88H1038.51ZM1043.17 1295.22H1059.51V1299.88H1043.17ZM1059.51 1295.22H1064.18V1302.22H1059.51ZM1064.18 1297.55H1085.18V1302.22H1064.18ZM1085.18 1297.55H1089.85V1304.55H1085.18ZM1089.85 1299.88H1101.52V1304.55H1089.85ZM1101.52 1297.55H1106.19V1304.55H1101.52ZM1106.19 1299.88H1120.19V1304.55H1106.19ZM1120.19 1299.88H1124.85V1306.89H1120.19ZM1124.85 1302.22H1166.86V1306.89H1124.85ZM1166.86 1302.22H1171.53V1309.22H1166.86ZM1171.53 1304.55H1220.54V1309.22H1171.53ZM1220.54 1304.55H1225.2V1311.55H1220.54ZM1225.2 1306.89H1274.21V1311.55H1225.2ZM1274.21 1306.89H1278.88V1313.89H1274.21ZM1278.88 1309.22H1283.55V1313.89H1278.88ZM1283.55 1306.89H1290.55V1311.55H1283.55ZM1290.55 1306.89H1295.22V1313.89H1290.55ZM1295.22 1309.22H1344.22V1313.89H1295.22ZM1344.22 1306.89H1346.56V1313.89H1344.22ZM1346.56 1306.89H1351.23V1311.55H1346.56ZM1351.23 1306.89H1355.89V1313.89H1351.23ZM1355.89 1309.22H1750.29V1313.89H1355.89ZM1750.29 1306.89H1752.63V1313.89H1750.29ZM1752.63 1306.89H1796.97V1311.55H1752.63ZM1796.97 1304.55H1801.63V1311.55H1796.97ZM1801.63 1306.89H1808.64V1311.55H1801.63ZM1808.64 1304.55H1871.65V1309.22H1808.64ZM1871.65 1302.22H1904.32V1306.89H1871.65Z"/>
<path fill="#00f" d="M161.03 1432.91H165.69V1437.57H161.03ZM165.69 1430.57H172.7V1435.24H165.69ZM172.7 1428.24H177.36V1432.91H172.7ZM177.36 1425.91H179.7V1430.57H177.36ZM179.7 1423.57H182.03V1430.57H179.7ZM182.03 1423.57H184.36V1428.24H182.03ZM184.36 1421.24H189.03V1425.91H184.36ZM189.03 1418.9H191.37V1423.57H189.03ZM191.37 1416.57H193.7V1423.57H191.37ZM193.7 1416.57H196.03V1421.24H193.7ZM196.03 1411.9H200.7V1418.9H196.03ZM200.7 1409.57H203.03V1414.24H200.7ZM203.03 1404.9H205.37V1414.24H203.03ZM205.37 1404.9H207.7V1411.9H205.37ZM207.7 1400.23H212.37V1407.24H207.7ZM212.37 1397.9H214.7V1402.57H212.37ZM214.7 1393.23H217.04V1402.57H214.7ZM217.04 1393.23H219.37V1400.23H217.04ZM219.37 1388.57H224.04V1395.57H219.37ZM224.04 1383.9H226.37V1390.9H224.04ZM226.37 1379.23H228.7V1390.9H226.37ZM228.7 1379.23H231.04V1386.23H228.7ZM231.04 1374.56H235.71V1381.56H231.04ZM235.71 1369.9H238.04V1376.9H235.71ZM238.04 1365.23H240.37V1376.9H238.04ZM240.37 1365.23H242.71V1372.23H240.37ZM242.71 1358.23H247.37V1367.56H242.71ZM247.37 1351.23H249.71V1360.56H247.37ZM249.71 1346.56H252.04V1360.56H249.71ZM252.04 1346.56H254.38V1353.56H252.04ZM254.38 1339.56H259.04V1348.89H254.38ZM259.04 1334.89H261.38V1341.89H259.04ZM261.38 1327.89H263.71V1341.89H261.38ZM263.71 1327.89H266.04V1337.22H263.71ZM266.04 1323.22H268.38V1330.22H266.04ZM268.38 1316.22H270.71V1330.22H268.38ZM270.71 1316.22H273.05V1325.56H270.71ZM273.05 1309.22H277.71V1318.55H273.05ZM277.71 1302.22H280.05V1311.55H277.71ZM280.05 1295.22H282.38V1311.55H280.05ZM282.38 1295.22H284.71V1304.55H282.38ZM284.71 1285.88H289.38V1297.55H284.71ZM289.38 1278.88H291.72V1288.22H289.38ZM291.72 1274.21H294.05V1288.22H291.72ZM294.05 1274.21H296.38V1281.21H294.05ZM296.38 1264.88H301.05V1276.55H296.38ZM301.05 1255.54H303.38V1267.21H301.05ZM303.38 1248.54H305.72V1267.21H303.38ZM305.72 1248.54H308.05V1257.88H305.72ZM308.05 1236.87H312.72V1250.88H308.05ZM312.72 1227.54H315.05V1239.21H312.72ZM315.05 1218.2H317.39V1239.21H315.05ZM317.39 1218.2H319.72V1229.87H317.39ZM319.72 1204.2H324.39V1220.54H319.72ZM324.39 1194.87H326.72V1206.54H324.39ZM326.72 1185.53H329.06V1206.54H326.72ZM329.06 1185.53H331.39V1197.2H329.06ZM331.39 1173.86H336.06V1187.87H331.39ZM336.06 1166.86H338.39V1176.2H336.06ZM338.39 1157.53H340.72V1176.2H338.39ZM340.72 1157.53H343.06V1169.2H340.72ZM343.06 1143.52H347.72V1159.86H343.06ZM347.72 1131.86H350.06V1145.86H347.72ZM350.06 1122.52H352.39V1145.86H350.06ZM352.39 1122.52H354.73V1134.19H352.39ZM354.73 1108.52H359.39V1124.85H354.73ZM359.39 1094.52H361.73V1110.85H359.39ZM361.73 1082.85H364.06V1110.85H361.73ZM364.06 1082.85H366.39V1096.85H364.06ZM366.39 1071.18H371.06V1085.18H366.39ZM371.06 1059.51H373.4V1073.51H371.06ZM373.4 1047.84H375.73V1073.51H373.4ZM375.73 1047.84H378.06V1061.84H375.73ZM378.06 1033.84H382.73V1050.18H378.06ZM382.73 1026.84H385.06V1036.17H382.73ZM385.06 1017.5H387.4V1036.17H385.06ZM387.4 1017.5H389.73V1029.17H387.4ZM389.73 1003.5H394.4V1019.84H389.73ZM394.4 996.5H396.73V1005.83H394.4ZM396.73 987.17H399.07V1005.83H396.73ZM399.07 987.17H401.4V998.83H399.07ZM401.4 977.83H403.73V989.5H401.4ZM403.73 970.83H406.07V989.5H403.73ZM406.07 970.83H408.4V980.16H406.07ZM408.4 949.83H413.07V973.16H408.4ZM413.07 940.49H415.4V952.16H413.07ZM415.4 928.82H417.74V952.16H415.4ZM417.74 928.82H420.07V942.82H417.74ZM420.07 917.15H424.74V931.16H420.07ZM424.74 907.82H427.07V919.49H424.74ZM427.07 900.82H429.41V919.49H427.07ZM429.41 900.82H431.74V910.15H429.41ZM431.74 891.48H436.41V903.15H431.74ZM436.41 884.48H438.74V893.82H436.41ZM438.74 875.15H441.07V893.82H438.74ZM441.07 875.15H443.41V886.81H441.07ZM443.41 863.48H448.07V877.48H443.41ZM448.07 856.48H450.41V865.81H448.07ZM450.41 849.48H452.74V865.81H450.41ZM452.74 849.48H455.08V858.81H452.74ZM455.08 840.14H459.74V851.81H455.08ZM459.74 833.14H462.08V842.47H459.74ZM462.08 826.14H464.41V842.47H462.08ZM464.41 826.14H466.74V835.47H464.41ZM466.74 819.14H471.41V828.47H466.74ZM471.41 814.47H473.75V821.47H471.41ZM473.75 809.8H476.08V821.47H473.75ZM476.08 809.8H478.41V816.8H476.08ZM478.41 805.13H483.08V812.14H478.41ZM483.08 800.47H485.41V807.47H483.08ZM485.41 798.13H487.75V807.47H485.41ZM487.75 798.13H490.08V802.8H487.75ZM490.08 793.47H494.75V800.47H490.08ZM494.75 791.13H497.08V795.8H494.75ZM497.08 788.8H499.42V795.8H497.08ZM499.42 788.8H501.75V793.47H499.42ZM501.75 784.13H506.42V791.13H501.75ZM506.42 779.46H508.75V786.46H506.42ZM508.75 774.8H511.09V786.46H508.75ZM511.09 774.8H513.42V781.8H511.09ZM513.42 772.46H518.09V777.13H513.42ZM518.09 770.13H520.42V774.8H518.09ZM520.42 767.8H522.75V774.8H520.42ZM522.75 767.8H529.76V772.46H522.75ZM529.76 767.8H532.09V774.8H529.76ZM532.09 767.8H534.42V777.13H532.09ZM534.42 770.13H536.76V777.13H534.42ZM536.76 772.46H539.09V777.13H536.76ZM539.09 772.46H543.76V779.46H539.09ZM543.76 774.8H548.43V781.8H543.76ZM548.43 777.13H550.76V784.13H548.43ZM550.76 777.13H553.09V786.46H550.76ZM553.09 779.46H555.43V786.46H553.09ZM555.43 781.8H560.09V791.13H555.43ZM560.09 786.46H562.43V793.47H560.09ZM562.43 786.46H564.76V795.8H562.43ZM564.76 788.8H567.09V795.8H564.76ZM567.09 791.13H571.76V802.8H567.09ZM571.76 798.13H574.1V805.13H571.76ZM574.1 798.13H576.43V809.8H574.1ZM576.43 800.47H578.76V809.8H576.43ZM578.76 805.13H583.43V814.47H578.76ZM583.43 809.8H585.76V821.47H583.43ZM585.76 809.8H588.1V828.47H585.76ZM588.1 816.8H590.43V828.47H588.1ZM590.43 823.8H595.1V835.47H590.43ZM595.1 830.81H597.43V842.47H595.1ZM597.43 830.81H599.77V847.14H597.43ZM599.77 837.81H602.1V847.14H599.77ZM602.1 842.47H606.77V854.14H602.1ZM606.77 849.48H609.1V858.81H606.77ZM609.1 849.48H611.44V863.48H609.1ZM611.44 854.14H613.77V863.48H611.44ZM613.77 858.81H618.44V870.48H613.77ZM618.44 865.81H620.77V875.15H618.44ZM620.77 865.81H623.1V879.81H620.77ZM623.1 870.48H625.44V879.81H623.1ZM625.44 875.15H630.11V889.15H625.44ZM630.11 884.48H632.44V896.15H630.11ZM632.44 884.48H634.77V903.15H632.44ZM634.77 891.48H637.11V903.15H634.77ZM637.11 898.48H641.77V912.49H637.11ZM641.77 907.82H644.11V921.82H641.77ZM644.11 907.82H646.44V931.16H644.11ZM646.44 917.15H648.78V931.16H646.44ZM648.78 926.49H653.44V940.49H648.78ZM653.44 935.82H655.78V947.49H653.44ZM655.78 935.82H658.11V954.49H655.78ZM658.11 942.82H660.44V954.49H658.11ZM660.44 949.83H665.11V966.16H660.44ZM665.11 961.49H667.44V975.5H665.11ZM667.44 961.49H669.78V982.5H667.44ZM669.78 970.83H672.11V982.5H669.78ZM672.11 977.83H674.45V991.83H672.11ZM674.45 977.83H676.78V1001.17H674.45ZM676.78 987.17H679.11V1001.17H676.78ZM679.11 996.5H683.78V1010.5H679.11ZM683.78 1005.83H686.11V1017.5H683.78ZM686.11 1005.83H688.45V1026.84H686.11ZM688.45 1012.84H690.78V1026.84H688.45ZM690.78 1022.17H695.45V1036.17H690.78ZM695.45 1031.51H697.78V1043.17H695.45ZM697.78 1031.51H700.12V1050.18H697.78ZM700.12 1038.51H702.45V1050.18H700.12ZM702.45 1045.51H707.12V1059.51H702.45ZM707.12 1054.84H709.45V1068.85H707.12ZM709.45 1054.84H711.79V1075.85H709.45ZM711.79 1064.18H714.12V1075.85H711.79ZM714.12 1071.18H718.79V1085.18H714.12ZM718.79 1080.51H721.12V1094.52H718.79ZM721.12 1080.51H723.45V1101.52H721.12ZM723.45 1089.85H725.79V1101.52H723.45ZM725.79 1096.85H730.46V1110.85H725.79ZM730.46 1106.19H732.79V1117.85H730.46ZM732.79 1106.19H735.12V1127.19H732.79ZM735.12 1113.19H737.46V1127.19H735.12ZM737.46 1122.52H742.12V1136.52H737.46ZM742.12 1131.86H744.46V1143.52H742.12ZM744.46 1131.86H746.79V1152.86H744.46ZM746.79 1138.86H749.13V1152.86H746.79ZM749.13 1148.19H753.79V1159.86H749.13ZM753.79 1155.19H756.13V1166.86H753.79ZM756.13 1155.19H758.46V1171.53H756.13ZM758.46 1162.19H760.79V1171.53H758.46ZM760.79 1166.86H765.46V1180.86H760.79ZM765.46 1176.2H767.8V1187.87H765.46ZM767.8 1176.2H770.13V1192.53H767.8ZM770.13 1183.2H772.46V1192.53H770.13ZM772.46 1187.87H777.13V1201.87H772.46ZM777.13 1197.2H779.46V1206.54H777.13ZM779.46 1197.2H781.8V1211.2H779.46ZM781.8 1201.87H784.13V1211.2H781.8ZM784.13 1206.54H788.8V1218.2H784.13ZM788.8 1213.54H791.13V1222.87H788.8ZM791.13 1213.54H793.47V1227.54H791.13ZM793.47 1218.2H795.8V1227.54H793.47ZM795.8 1222.87H800.47V1234.54H795.8ZM800.47 1229.87H802.8V1241.54H800.47ZM802.8 1229.87H805.13V1246.21H802.8ZM805.13 1236.87H807.47V1246.21H805.13ZM807.47 1241.54H809.8V1250.88H807.47ZM809.8 1241.54H812.14V1253.21H809.8ZM812.14 1246.21H814.47V1253.21H812.14ZM814.47 1248.54H819.14V1260.21H814.47ZM819.14 1255.54H821.47V1262.54H819.14ZM821.47 1255.54H823.8V1264.88H821.47ZM823.8 1257.88H826.14V1264.88H823.8ZM826.14 1260.21H830.81V1269.55H826.14ZM830.81 1264.88H833.14V1274.21H830.81ZM833.14 1264.88H835.47V1276.55H833.14ZM835.47 1269.55H837.81V1276.55H835.47ZM837.81 1271.88H842.47V1283.55H837.81ZM842.47 1278.88H844.81V1285.88H842.47ZM844.81 1278.88H847.14V1288.22H844.81ZM847.14 1281.21H849.48V1288.22H847.14ZM849.48 1283.55H854.14V1292.88H849.48ZM854.14 1288.22H856.48V1295.22H854.14ZM856.48 1288.22H858.81V1297.55H856.48ZM858.81 1290.55H861.14V1297.55H858.81ZM861.14 1292.88H865.81V1299.88H861.14ZM865.81 1295.22H868.15V1302.22H865.81ZM868.15 1295.22H870.48V1304.55H868.15ZM870.48 1297.55H872.81V1304.55H870.48ZM872.81 1299.88H877.48V1309.22H872.81ZM877.48 1304.55H879.81V1309.22H877.48ZM879.81 1304.55H884.48V1311.55H879.81ZM884.48 1306.89H889.15V1313.89H884.48ZM889.15 1309.22H891.48V1316.22H889.15ZM891.48 1309.22H893.82V1318.55H891.48ZM893.82 1311.55H896.15V1318.55H893.82ZM896.15 1313.89H900.82V1320.89H896.15ZM900.82 1316.22H905.48V1323.22H900.82ZM905.48 1318.55H907.82V1323.22H905.48ZM907.82 1318.55H912.49V1325.56H907.82ZM912.49 1320.89H914.82V1327.89H912.49ZM914.82 1320.89H917.15V1330.22H914.82ZM917.15 1323.22H919.49V1330.22H917.15ZM919.49 1325.56H924.15V1332.56H919.49ZM924.15 1327.89H926.49V1332.56H924.15ZM926.49 1327.89H931.16V1334.89H926.49ZM931.16 1330.22H935.82V1337.22H931.16ZM935.82 1332.56H940.49V1339.56H935.82ZM940.49 1334.89H942.82V1339.56H940.49ZM942.82 1334.89H945.16V1341.89H942.82ZM945.16 1334.89H947.49V1344.22H945.16ZM947.49 1337.22H949.83V1344.22H947.49ZM949.83 1339.56H954.49V1344.22H949.83ZM954.49 1339.56H956.83V1346.56H954.49ZM956.83 1339.56H959.16V1348.89H956.83ZM959.16 1341.89H961.49V1348.89H959.16ZM961.49 1344.22H966.16V1348.89H961.49ZM966.16 1344.22H968.5V1351.23H966.16ZM968.5 1344.22H970.83V1353.56H968.5ZM970.83 1346.56H973.16V1353.56H970.83ZM973.16 1348.89H977.83V1353.56H973.16ZM977.83 1348.89H982.5V1355.89H977.83ZM982.5 1351.23H984.83V1355.89H982.5ZM984.83 1351.23H989.5V1358.23H984.83ZM989.5 1353.56H996.5V1358.23H989.5ZM996.5 1353.56H1001.17V1360.56H996.5ZM1001.17 1355.89H1003.5V1360.56H1001.17ZM1003.5 1355.89H1008.17V1362.89H1003.5ZM1008.17 1358.23H1012.84V1362.89H1008.17ZM1012.84 1358.23H1017.5V1365.23H1012.84ZM1017.5 1360.56H1024.5V1365.23H1017.5ZM1024.5 1360.56H1029.17V1367.56H1024.5ZM1029.17 1362.89H1036.17V1367.56H1029.17ZM1036.17 1362.89H1040.84V1369.9H1036.17ZM1040.84 1365.23H1054.84V1369.9H1040.84ZM1054.84 1365.23H1059.51V1372.23H1054.84ZM1059.51 1367.56H1078.18V1372.23H1059.51ZM1078.18 1367.56H1082.85V1374.56H1078.18ZM1082.85 1369.9H1101.52V1374.56H1082.85ZM1101.52 1369.9H1106.19V1376.9H1101.52ZM1106.19 1372.23H1124.85V1376.9H1106.19ZM1124.85 1372.23H1129.52V1379.23H1124.85ZM1129.52 1374.56H1155.19V1379.23H1129.52ZM1155.19 1374.56H1159.86V1381.56H1155.19ZM1159.86 1376.9H1201.87V1381.56H1159.86ZM1201.87 1376.9H1206.54V1383.9H1201.87ZM1206.54 1379.23H1290.55V1383.9H1206.54ZM1290.55 1379.23H1295.22V1386.23H1290.55ZM1295.22 1381.56H1460.91V1386.23H1295.22ZM1460.91 1381.56H1465.58V1388.57H1460.91ZM1465.58 1383.9H1521.59V1388.57H1465.58ZM1521.59 1381.56H1523.92V1388.57H1521.59ZM1523.92 1381.56H1530.92V1386.23H1523.92ZM1530.92 1381.56H1535.59V1388.57H1530.92ZM1535.59 1383.9H1549.59V1388.57H1535.59ZM1549.59 1381.56H1568.26V1386.23H1549.59ZM1568.26 1381.56H1572.93V1388.57H1568.26ZM1572.93 1383.9H1584.6V1388.57H1572.93ZM1584.6 1381.56H1589.27V1388.57H1584.6ZM1589.27 1383.9H1619.6V1388.57H1589.27ZM1619.6 1381.56H1624.27V1388.57H1619.6ZM1624.27 1383.9H1701.28V1388.57H1624.27ZM1701.28 1383.9H1705.95V1390.9H1701.28ZM1705.95 1386.23H1712.95V1390.9H1705.95ZM1712.95 1383.9H1719.95V1388.57H1712.95ZM1719.95 1383.9H1724.62V1390.9H1719.95ZM1724.62 1386.23H1731.62V1390.9H1724.62ZM1731.62 1383.9H1850.64V1388.57H1731.62ZM1850.64 1381.56H1852.98V1388.57H1850.64ZM1852.98 1381.56H1904.32V1386.23H1852.98Z"/>
<path fill="#f0f" d="M161.03 1481.91H168.03V1486.58H161.03ZM168.03 1479.58H170.36V1486.58H168.03ZM170.36 1479.58H177.36V1484.25H170.36ZM177.36 1477.25H179.7V1481.91H177.36ZM179.7 1474.91H182.03V1481.91H179.7ZM182.03 1474.91H189.03V1479.58H182.03ZM189.03 1472.58H191.37V1477.25H189.03ZM191.37 1470.25H193.7V1477.25H191.37ZM193.7 1470.25H196.03V1474.91H193.7ZM196.03 1467.91H200.7V1472.58H196.03ZM200.7 1465.58H203.03V1470.25H200.7ZM203.03 1463.24H205.37V1470.25H203.03ZM205.37 1463.24H207.7V1467.91H205.37ZM207.7 1460.91H212.37V1465.58H207.7ZM212.37 1458.58H214.7V1463.24H212.37ZM214.7 1456.24H217.04V1463.24H214.7ZM217.04 1456.24H219.37V1460.91H217.04ZM219.37 1453.91H224.04V1458.58H219.37ZM224.04 1451.58H226.37V1456.24H224.04ZM226.37 1449.24H228.7V1456.24H226.37ZM228.7 1449.24H231.04V1453.91H228.7ZM231.04 1444.57H235.71V1451.58H231.04ZM235.71 1442.24H238.04V1446.91H235.71ZM238.04 1439.91H240.37V1446.91H238.04ZM240.37 1439.91H242.71V1444.57H240.37ZM242.71 1435.24H247.37V1442.24H242.71ZM247.37 1430.57H249.71V1437.57H247.37ZM249.71 1425.91H252.04V1437.57H249.71ZM252.04 1425.91H254.38V1432.91H252.04ZM254.38 1421.24H259.04V1428.24H254.38ZM259.04 1416.57H261.38V1423.57H259.04ZM261.38 1411.9H263.71V1423.57H261.38ZM263.71 1411.9H266.04V1418.9H263.71ZM266.04 1407.24H268.38V1414.24H266.04ZM268.38 1404.9H270.71V1414.24H268.38ZM270.71 1404.9H273.05V1409.57H270.71ZM273.05 1400.23H277.71V1407.24H273.05ZM277.71 1395.57H280.05V1402.57H277.71ZM280.05 1390.9H282.38V1402.57H280.05ZM282.38 1390.9H284.71V1397.9H282.38ZM284.71 1383.9H289.38V1393.23H284.71ZM289.38 1379.23H291.72V1386.23H289.38ZM291.72 1374.56H294.05V1386.23H291.72ZM294.05 1374.56H296.38V1381.56H294.05ZM296.38 1367.56H301.05V1376.9H296.38ZM301.05 1358.23H303.38V1369.9H301.05ZM303.38 1351.23H305.72V1369.9H303.38ZM305.72 1351.23H308.05V1360.56H305.72ZM308.05 1344.22H312.72V1353.56H308.05ZM312.72 1339.56H315.05V1346.56H312.72ZM315.05 1334.89H317.39V1346.56H315.05ZM317.39 1334.89H319.72V1341.89H317.39ZM319.72 1327.89H324.39V1337.22H319.72ZM324.39 1323.22H326.72V1330.22H324.39ZM326.72 1316.22H329.06V1330.22H326.72ZM329.06 1316.22H331.39V1325.56H329.06ZM331.39 1304.55H336.06V1318.55H331.39ZM336.06 1297.55H338.39V1306.89H336.06ZM338.39 1290.55H340.72V1306.89H338.39ZM340.72 1290.55H343.06V1299.88H340.72ZM343.06 1281.21H347.72V1292.88H343.06ZM347.72 1274.21H350.06V1283.55H347.72ZM350.06 1269.55H352.39V1283.55H350.06ZM352.39 1269.55H354.73V1276.55H352.39ZM354.73 1262.54H359.39V1271.88H354.73ZM359.39 1255.54H361.73V1264.88H359.39ZM361.73 1248.54H364.06V1264.88H361.73ZM364.06 1248.54H366.39V1257.88H364.06ZM366.39 1241.54H371.06V1250.88H366.39ZM371.06 1236.87H373.4V1243.87H371.06ZM373.4 1227.54H375.73V1243.87H373.4ZM375.73 1227.54H378.06V1239.21H375.73ZM378.06 1218.2H382.73V1229.87H378.06ZM382.73 1211.2H385.06V1220.54H382.73ZM385.06 1206.54H387.4V1220.54H385.06ZM387.4 1206.54H389.73V1213.54H387.4ZM389.73 1197.2H394.4V1208.87H389.73ZM394.4 1190.2H396.73V1199.53H394.4ZM396.73 1185.53H399.07V1199.53H396.73ZM399.07 1185.53H401.4V1192.53H399.07ZM401.4 1180.86H403.73V1187.87H401.4ZM403.73 1176.2H406.07V1187.87H403.73ZM406.07 1176.2H408.4V1183.2H406.07ZM408.4 1166.86H413.07V1178.53H408.4ZM413.07 1162.19H415.4V1169.2H413.07ZM415.4 1157.53H417.74V1169.2H415.4ZM417.74 1157.53H420.07V1164.53H417.74ZM420.07 1148.19H424.74V1159.86H420.07ZM424.74 1141.19H427.07V1150.53H424.74ZM427.07 1136.52H429.41V1150.53H427.07ZM429.41 1136.52H431.74V1143.52H429.41ZM431.74 1129.52H436.41V1138.86H431.74ZM436.41 1124.85H438.74V1131.86H436.41ZM438.74 1120.19H441.07V1131.86H438.74ZM441.07 1120.19H443.41V1127.19H441.07ZM443.41 1113.19H448.07V1122.52H443.41ZM448.07 1108.52H450.41V1115.52H448.07ZM450.41 1103.85H452.74V1115.52H450.41ZM452.74 1103.85H455.08V1110.85H452.74ZM455.08 1096.85H459.74V1106.19H455.08ZM459.74 1092.18H462.08V1099.18H459.74ZM462.08 1087.52H464.41V1099.18H462.08ZM464.41 1087.52H466.74V1094.52H464.41ZM466.74 1082.85H471.41V1089.85H466.74ZM471.41 1080.51H473.75V1085.18H471.41ZM473.75 1078.18H476.08V1085.18H473.75ZM476.08 1078.18H478.41V1082.85H476.08ZM478.41 1071.18H483.08V1080.51H478.41ZM483.08 1066.51H485.41V1073.51H483.08ZM485.41 1061.84H487.75V1073.51H485.41ZM487.75 1061.84H490.08V1068.85H487.75ZM490.08 1057.18H494.75V1064.18H490.08ZM494.75 1052.51H497.08V1059.51H494.75ZM497.08 1050.18H499.42V1059.51H497.08ZM499.42 1050.18H501.75V1054.84H499.42ZM501.75 1047.84H506.42V1052.51H501.75ZM506.42 1045.51H520.42V1050.18H506.42ZM520.42 1043.17H522.75V1050.18H520.42ZM522.75 1043.17H529.76V1047.84H522.75ZM529.76 1040.84H539.09V1045.51H529.76ZM539.09 1038.51H541.42V1045.51H539.09ZM541.42 1038.51H548.43V1043.17H541.42ZM548.43 1038.51H553.09V1045.51H548.43ZM553.09 1040.84H567.09V1045.51H553.09ZM567.09 1040.84H571.76V1047.84H567.09ZM571.76 1043.17H574.1V1052.51H571.76ZM574.1 1043.17H576.43V1054.84H574.1ZM576.43 1047.84H578.76V1054.84H576.43ZM578.76 1050.18H583.43V1059.51H578.76ZM583.43 1054.84H585.76V1064.18H583.43ZM585.76 1054.84H588.1V1066.51H585.76ZM588.1 1059.51H590.43V1066.51H588.1ZM590.43 1061.84H595.1V1071.18H590.43ZM595.1 1066.51H597.43V1073.51H595.1ZM597.43 1066.51H599.77V1075.85H597.43ZM599.77 1068.85H602.1V1075.85H599.77ZM602.1 1071.18H606.77V1080.51H602.1ZM606.77 1075.85H609.1V1082.85H606.77ZM609.1 1075.85H611.44V1087.52H609.1ZM611.44 1078.18H613.77V1087.52H611.44ZM613.77 1082.85H618.44V1092.18H613.77ZM618.44 1087.52H620.77V1094.52H618.44ZM620.77 1087.52H623.1V1099.18H620.77ZM623.1 1089.85H625.44V1099.18H623.1ZM625.44 1094.52H630.11V1103.85H625.44ZM630.11 1099.18H632.44V1108.52H630.11ZM632.44 1099.18H634.77V1113.19H632.44ZM634.77 1103.85H637.11V1113.19H634.77ZM637.11 1108.52H641.77V1117.85H637.11ZM641.77 1113.19H644.11V1122.52H641.77ZM644.11 1113.19H646.44V1127.19H644.11ZM646.44 1117.85H648.78V1127.19H646.44ZM648.78 1122.52H653.44V1134.19H648.78ZM653.44 1129.52H655.78V1138.86H653.44ZM655.78 1129.52H658.11V1145.86H655.78ZM658.11 1134.19H660.44V1145.86H658.11ZM660.44 1141.19H665.11V1152.86H660.44ZM665.11 1148.19H667.44V1157.53H665.11ZM667.44 1148.19H669.78V1162.19H667.44ZM669.78 1152.86H672.11V1162.19H669.78ZM672.11 1157.53H674.45V1166.86H672.11ZM674.45 1157.53H676.78V1176.2H674.45ZM676.78 1162.19H679.11V1176.2H676.78ZM679.11 1171.53H683.78V1185.53H679.11ZM683.78 1180.86H686.11V1190.2H683.78ZM686.11 1180.86H688.45V1197.2H686.11ZM688.45 1185.53H690.78V1197.2H688.45ZM690.78 1192.53H695.45V1206.54H690.78ZM695.45 1201.87H697.78V1213.54H695.45ZM697.78 1201.87H700.12V1218.2H697.78ZM700.12 1208.87H702.45V1218.2H700.12ZM702.45 1213.54H707.12V1227.54H702.45ZM707.12 1222.87H709.45V1232.21H707.12ZM709.45 1222.87H711.79V1239.21H709.45ZM711.79 1227.54H714.12V1239.21H711.79ZM714.12 1234.54H718.79V1246.21H714.12ZM718.79 1241.54H721.12V1250.88H718.79ZM721.12 1241.54H723.45V1255.54H721.12ZM723.45 1246.21H725.79V1255.54H723.45ZM725.79 1250.88H730.46V1262.54H725.79ZM730.46 1257.88H732.79V1269.55H730.46ZM732.79 1257.88H735.12V1274.21H732.79ZM735.12 1264.88H737.46V1274.21H735.12ZM737.46 1269.55H742.12V1278.88H737.46ZM742.12 1274.21H744.46V1283.55H742.12ZM744.46 1274.21H746.79V1288.22H744.46ZM746.79 1278.88H749.13V1288.22H746.79ZM749.13 1283.55H753.79V1292.88H749.13ZM753.79 1288.22H756.13V1295.22H753.79ZM756.13 1288.22H758.46V1299.88H756.13ZM758.46 1290.55H760.79V1299.88H758.46ZM760.79 1295.22H765.46V1304.55H760.79ZM765.46 1299.88H767.8V1309.22H765.46ZM767.8 1299.88H770.13V1313.89H767.8ZM770.13 1304.55H772.46V1313.89H770.13ZM772.46 1309.22H777.13V1316.22H772.46ZM777.13 1311.55H779.46V1320.89H777.13ZM779.46 1311.55H781.8V1323.22H779.46ZM781.8 1316.22H784.13V1323.22H781.8ZM784.13 1318.55H788.8V1327.89H784.13ZM788.8 1323.22H791.13V1330.22H788.8ZM791.13 1323.22H793.47V1332.56H791.13ZM793.47 1325.56H795.8V1332.56H793.47ZM795.8 1327.89H800.47V1337.22H795.8ZM800.47 1332.56H802.8V1339.56H800.47ZM802.8 1332.56H805.13V1341.89H802.8ZM805.13 1334.89H807.47V1341.89H805.13ZM807.47 1337.22H809.8V1344.22H807.47ZM809.8 1337.22H812.14V1346.56H809.8ZM812.14 1339.56H814.47V1346.56H812.14ZM814.47 1341.89H819.14V1348.89H814.47ZM819.14 1344.22H821.47V1351.23H819.14ZM821.47 1344.22H823.8V1353.56H821.47ZM823.8 1346.56H826.14V1353.56H823.8ZM826.14 1348.89H830.81V1355.89H826.14ZM830.81 1351.23H833.14V1358.23H830.81ZM833.14 1351.23H835.47V1360.56H833.14ZM835.47 1353.56H837.81V1360.56H835.47ZM837.81 1355.89H842.47V1362.89H837.81ZM842.47 1358.23H847.14V1365.23H842.47ZM847.14 1360.56H849.48V1365.23H847.14ZM849.48 1360.56H854.14V1367.56H849.48ZM854.14 1362.89H856.48V1369.9H854.14ZM856.48 1362.89H858.81V1372.23H856.48ZM858.81 1365.23H861.14V1372.23H858.81ZM861.14 1367.56H865.81V1374.56H861.14ZM865.81 1369.9H868.15V1374.56H865.81ZM868.15 1369.9H872.81V1376.9H868.15ZM872.81 1372.23H877.48V1379.23H872.81ZM877.48 1374.56H879.81V1379.23H877.48ZM879.81 1374.56H884.48V1381.56H879.81ZM884.48 1376.9H889.15V1381.56H884.48ZM889.15 1376.9H893.82V1383.9H889.15ZM893.82 1379.23H896.15V1383.9H893.82ZM896.15 1379.23H900.82V1386.23H896.15ZM900.82 1381.56H903.15V1388.57H900.82ZM903.15 1381.56H905.48V1390.9H903.15ZM905.48 1383.9H907.82V1390.9H905.48ZM907.82 1386.23H912.49V1393.23H907.82ZM912.49 1388.57H917.15V1395.57H912.49ZM917.15 1390.9H919.49V1395.57H917.15ZM919.49 1390.9H924.15V1397.9H919.49ZM924.15 1393.23H928.82V1400.23H924.15ZM928.82 1395.57H931.16V1400.23H928.82ZM931.16 1395.57H935.82V1402.57H931.16ZM935.82 1397.9H938.16V1402.57H935.82ZM938.16 1397.9H942.82V1404.9H938.16ZM942.82 1400.23H945.16V1404.9H942.82ZM945.16 1400.23H949.83V1407.24H945.16ZM949.83 1402.57H954.49V1407.24H949.83ZM954.49 1402.57H959.16V1409.57H954.49ZM959.16 1404.9H961.49V1409.57H959.16ZM961.49 1404.9H966.16V1411.9H961.49ZM966.16 1407.24H970.83V1414.24H966.16ZM970.83 1409.57H973.16V1414.24H970.83ZM973.16 1409.57H977.83V1416.57H973.16ZM977.83 1411.9H980.16V1416.57H977.83ZM980.16 1411.9H984.83V1418.9H980.16ZM984.83 1414.24H991.83V1418.9H984.83ZM991.83 1414.24H996.5V1421.24H991.83ZM996.5 1416.57H1001.17V1421.24H996.5ZM1001.17 1416.57H1005.83V1423.57H1001.17ZM1005.83 1418.9H1008.17V1423.57H1005.83ZM1008.17 1418.9H1012.84V1425.91H1008.17ZM1012.84 1421.24H1019.84V1425.91H1012.84ZM1019.84 1421.24H1024.5V1428.24H1019.84ZM1024.5 1423.57H1038.51V1428.24H1024.5ZM1038.51 1423.57H1043.17V1430.57H1038.51ZM1043.17 1425.91H1059.51V1430.57H1043.17ZM1059.51 1425.91H1064.18V1432.91H1059.51ZM1064.18 1428.24H1078.18V1432.91H1064.18ZM1078.18 1428.24H1082.85V1435.24H1078.18ZM1082.85 1430.57H1096.85V1435.24H1082.85ZM1096.85 1430.57H1101.52V1437.57H1096.85ZM1101.52 1432.91H1113.19V1437.57H1101.52ZM1113.19 1432.91H1117.85V1439.91H1113.19ZM1117.85 1435.24H1136.52V1439.91H1117.85ZM1136.52 1435.24H1141.19V1442.24H1136.52ZM1141.19 1437.57H1162.19V1442.24H1141.19ZM1162.19 1437.57H1166.86V1444.57H1162.19ZM1166.86 1439.91H1190.2V1444.57H1166.86ZM1190.2 1439.91H1194.87V1446.91H1190.2ZM1194.87 1442.24H1227.54V1446.91H1194.87ZM1227.54 1442.24H1232.21V1449.24H1227.54ZM1232.21 1444.57H1262.54V1449.24H1232.21ZM1262.54 1444.57H1267.21V1451.58H1262.54ZM1267.21 1446.91H1278.88V1451.58H1267.21ZM1278.88 1444.57H1313.89V1449.24H1278.88ZM1313.89 1444.57H1318.55V1451.58H1313.89ZM1318.55 1446.91H1395.57V1451.58H1318.55ZM1395.57 1444.57H1400.23V1451.58H1395.57ZM1400.23 1446.91H1409.57V1451.58H1400.23ZM1409.57 1444.57H1414.24V1451.58H1409.57ZM1414.24 1446.91H1519.25V1451.58H1414.24ZM1519.25 1446.91H1523.92V1453.91H1519.25ZM1523.92 1449.24H1530.92V1453.91H1523.92ZM1530.92 1449.24H1535.59V1456.24H1530.92ZM1535.59 1451.58H1554.26V1456.24H1535.59ZM1554.26 1449.24H1649.94V1453.91H1554.26ZM1649.94 1446.91H1661.61V1451.58H1649.94ZM1661.61 1446.91H1666.28V1453.91H1661.61ZM1666.28 1449.24H1696.62V1453.91H1666.28ZM1696.62 1446.91H1703.62V1451.58H1696.62ZM1703.62 1446.91H1708.29V1453.91H1703.62ZM1708.29 1449.24H1712.95V1453.91H1708.29ZM1712.95 1446.91H1836.64V1451.58H1712.95ZM1836.64 1446.91H1841.31V1453.91H1836.64ZM1841.31 1449.24H1848.31V1453.91H1841.31ZM1848.31 1446.91H1850.64V1453.91H1848.31ZM1850.64 1444.57H1852.98V1453.91H1850.64ZM1852.98 1444.57H1904.32V1449.24H1852.98Z"/>
<path fill="#000" d="M528.6 226.5h2.4v2.4h-2.4zM528.6 238.1h2.4v2.4h-2.4zM528.6 249.7h2.4v2.4h-2.4zM528.6 261.3h2.4v2.4h-2.4zM528.6 272.9h2.4v2.4h-2.4zM528.6 284.5h2.4v2.4h-2.4zM528.6 309.3h2.4v2.4h-2.4zM528.6 320.9h2.4v2.4h-2.4zM528.6 332.5h2.4v2.4h-2.4zM528.6 344.1h2.4v2.4h-2.4zM528.6 355.7h2.4v2.4h-2.4zM528.6 367.3h2.4v2.4h-2.4zM528.6 378.9h2.4v2.4h-2.4zM528.6 390.5h2.4v2.4h-2.4zM528.6 403.4h2.4v2.4h-2.4zM528.6 415h2.4v2.4h-2.4zM528.6 426.6h2.4v2.4h-2.4zM528.6 438.2h2.4v2.4h-2.4zM528.6 449.8h2.4v2.4h-2.4zM528.6 461.4h2.4v2.4h-2.4zM528.6 473h2.4v2.4h-2.4zM528.6 484.6h2.4v2.4h-2.4zM528.6 509.4h2.4v2.4h-2.4zM528.6 521h2.4v2.4h-2.4zM528.6 532.6h2.4v2.4h-2.4zM528.6 544.2h2.4v2.4h-2.4zM528.6 555.8h2.4v2.4h-2.4zM528.6 567.4h2.4v2.4h-2.4zM528.6 579h2.4v2.4h-2.4zM528.6 590.6h2.4v2.4h-2.4zM528.6 603.5h2.4v2.4h-2.4zM528.6 615.1h2.4v2.4h-2.4zM528.6 626.7h2.4v2.4h-2.4zM528.6 638.3h2.4v2.4h-2.4zM528.6 649.9h2.4v2.4h-2.4zM528.6 661.5h2.4v2.4h-2.4zM528.6 673.1h2.4v2.4h-2.4zM528.6 684.7h2.4v2.4h-2.4zM528.6 709.5h2.4v2.4h-2.4zM528.6 721.1h2.4v2.4h-2.4zM528.6 732.7h2.4v2.4h-2.4zM528.6 744.3h2.4v2.4h-2.4zM528.6 755.9h2.4v2.4h-2.4zM528.6 767.5h2.4v2.4h-2.4zM528.6 779.1h2.4v2.4h-2.4zM528.6 790.7h2.4v2.4h-2.4zM528.6 803.6h2.4v2.4h-2.4zM528.6 815.2h2.4v2.4h-2.4zM528.6 826.8h2.4v2.4h-2.4zM528.6 838.4h2.4v2.4h-2.4zM528.6 850h2.4v2.4h-2.4zM528.6 861.6h2.4v2.4h-2.4zM528.6 873.2h2.4v2.4h-2.4zM528.6 884.8h2.4v2.4h-2.4zM528.6 909.6h2.4v2.4h-2.4zM528.6 921.2h2.4v2.4h-2.4zM528.6 932.8h2.4v2.4h-2.4zM528.6 944.4h2.4v2.4h-2.4zM528.6 956h2.4v2.4h-2.4zM528.6 967.6h2.4v2.4h-2.4zM528.6 979.2h2.4v2.4h-2.4zM528.6 990.8h2.4v2.4h-2.4zM528.6 1003.7h2.4v2.4h-2.4zM528.6 1015.3h2.4v2.4h-2.4zM528.6 1026.9h2.4v2.4h-2.4zM528.6 1038.5h2.4v2.4h-2.4zM528.6 1050.1h2.4v2.4h-2.4zM528.6 1061.7h2.4v2.4h-2.4zM528.6 1073.3h2.4v2.4h-2.4zM528.6 1084.9h2.4v2.4h-2.4zM528.6 1109.7h2.4v2.4h-2.4zM528.6 1121.3h2.4v2.4h-2.4zM528.6 1132.9h2.4v2.4h-2.4zM528.6 1144.5h2.4v2.4h-2.4zM528.6 1156.1h2.4v2.4h-2.4zM528.6 1167.7h2.4v2.4h-2.4zM528.6 1179.3h2.4v2.4h-2.4zM528.6 1190.9h2.4v2.4h-2.4zM528.6 1203.8h2.4v2.4h-2.4zM528.6 1215.4h2.4v2.4h-2.4zM528.6 1227h2.4v2.4h-2.4zM528.6 1238.6h2.4v2.4h-2.4zM528.6 1250.2h2.4v2.4h-2.4zM528.6 1261.8h2.4v2.4h-2.4zM528.6 1273.4h2.4v2.4h-2.4zM528.6 1285h2.4v2.4h-2.4z"/></g>
<g fill="#000" stroke="#000" stroke-width="0.8" stroke-linejoin="round" filter="url(#softt)"><text transform="translate(0 1620.2) scale(1 1)" x="109.23 143.87 183.37" y="0" font-size="67">100</text><path fill="#fff" stroke="none" d="M111.83 1613.59H125.58V1622.7H111.83ZM132.5 1613.59H145.72V1622.7H132.5Z"/>
<text transform="translate(0 1620.2) scale(1 1)" x="301.93 338.58 375.67" y="0" font-size="67">150</text><path fill="#fff" stroke="none" d="M304.53 1613.59H318.28V1622.7H304.53ZM325.2 1613.59H338.42V1622.7H325.2Z"/>
<text transform="translate(0 1620.2) scale(1 1)" x="492.82 530.82 570.32" y="0" font-size="67">200</text>
<text transform="translate(0 1620.2) scale(1 1)" x="685.17 725.63 762.42" y="0" font-size="67">250</text>
<text transform="translate(0 1620.2) scale(1 1)" x="880.52 917.92 957.42" y="0" font-size="67">300</text>
<text transform="translate(0 1620.2) scale(1 1)" x="1073.02 1110.83 1149.82" y="0" font-size="67">350</text>
<text transform="translate(0 1620.2) scale(1 1)" x="1268.13 1304.32 1342.12" y="0" font-size="67">400</text>
<text transform="translate(0 1620.2) scale(1 1)" x="1460.23 1497.38 1536.42" y="0" font-size="67">450</text>
<text transform="translate(0 1620.2) scale(1 1)" x="1652.78 1691.82 1729.12" y="0" font-size="67">500</text>
<text transform="translate(0 1620.2) scale(1 1)" x="1846.63 1883.43 1923.77" y="0" font-size="67">550</text>
<text transform="translate(0 1700.6) scale(1 0.95)" x="756.08 797.53 836.98 892.62 931.38 969.23 989.9 1027.48 1047.22 1086.83 1110.18 1147.64 1174.44 1186.34 1208.18" y="0" font-size="67"><tspan font-size="71.5">T</tspan>emperature/ <tspan font-size="43" dy="-35.05">o</tspan><tspan font-size="71.5" dy="35.05">C</tspan></text>
<text transform="translate(80.8 1031.3) rotate(-90) scale(1 0.95)" x="-7.03 13.02 50.83 70.58 107.42 145.58 179.47 191.38 208.68 235.48 265.01 284.45 325.04 342.12 380.44 397.98" y="0" font-size="67"><tspan font-size="71.5">I</tspan>ntensity (a.u.)</text>
<text transform="translate(0 88.2) scale(1 1)" x="162.31 206.16 253.62 276.84 298.25 335.75 378.11" y="0" font-size="63.3" font-weight="bold" stroke-width="0.4">CO<tspan font-size="39.5" font-weight="normal" dy="23" stroke-width="1.3">2</tspan><tspan dy="-23">-TPD</tspan></text>
<text transform="translate(0 242.2) scale(1 1)" x="582.03 615.49 653.98 694.09 711.52 748.67 771.73" y="0" font-size="67">194.8<tspan font-size="42" dy="-34.5">o</tspan><tspan dy="34.5">C</tspan></text><path fill="#fff" stroke="none" d="M584.63 235.59H598.38V244.7H584.63ZM605.3 235.59H618.52V244.7H605.3Z"/>
<text transform="translate(0 1222.6) scale(1 0.97)" x="1790.94" y="0" font-size="63.5">a</text>
<text transform="translate(0 1296) scale(1 0.98)" x="1791.91" y="0" font-size="66.5">b</text>
<text transform="translate(0 1369.4) scale(1 0.94)" x="1789.59" y="0" font-size="66.5">c</text>
<text transform="translate(0 1443.2) scale(1 0.98)" x="1789" y="0" font-size="66.5">d</text></g>
</svg>
</body>
</html>
